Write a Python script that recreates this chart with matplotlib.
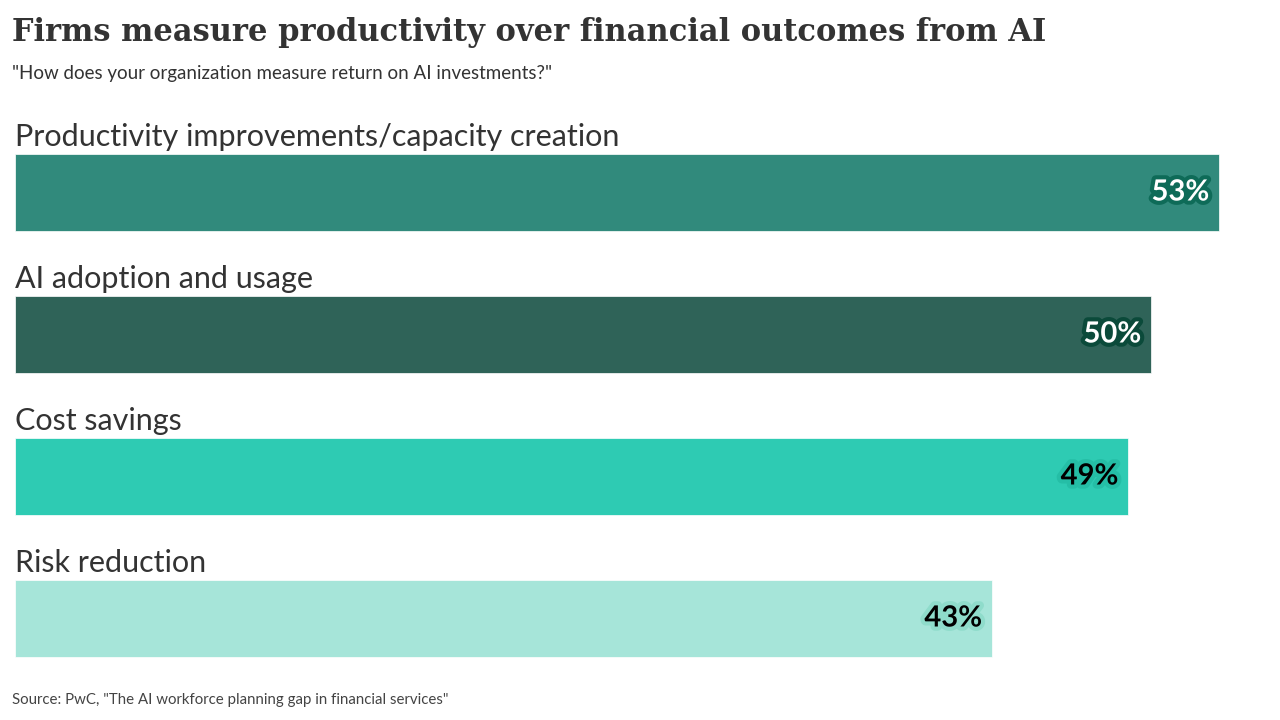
import matplotlib
matplotlib.use("Agg")
import matplotlib.pyplot as plt
import matplotlib.patheffects as pe

categories = ["Productivity improvements/capacity creation", "AI adoption and usage",
              "Cost savings", "Risk reduction"]
values = [53, 50, 49, 43]
bar_colors = ["#318a7c", "#2f6358", "#2ecbb3", "#a6e5d9"]
text_colors = ["white", "white", "black", "black"]
stroke_colors = ["#0e6b58", "#0b4a3a", "#25bea6", "#8fdccb"]

title = "Firms measure productivity over financial outcomes from AI"
subtitle = "\"How does your organization measure return on AI investments?\""
source = "Source: PwC, \"The AI workforce planning gap in financial services\""

W, H = 1280, 720
fig = plt.figure(figsize=(W / 100, H / 100), dpi=100)

# axes spans pixel x 15..1280, y 100..680
ax = fig.add_axes([15 / W, (H - 680) / H, (W - 15) / W, 580 / H])
px_per_pct = 1204 / 53
ax.set_xlim(0, (W - 15) / px_per_pct)
pitch = 142
ax.set_ylim((680 - 192.5) / pitch, -(192.5 - 100) / pitch)
ax.axis("off")

bh = 77 / pitch
ypos = list(range(len(categories)))
ax.barh(ypos, values, height=bh, color=bar_colors, edgecolor="white", linewidth=0.5)

for i, (cat, v) in enumerate(zip(categories, values)):
    ax.text(0.02, i - bh / 2 - 8 / pitch, cat, fontsize=22, family="Lato",
            color="#333333", va="baseline", ha="left")
    ax.annotate(f"{v}%", (v, i), xytext=(-7, 0), textcoords="offset points",
                ha="right", va="center", fontsize=21, fontweight="bold",
                family="Lato", color=text_colors[i],
                path_effects=[pe.withStroke(linewidth=6, foreground=stroke_colors[i])])

fig.text(12 / W, 1 - 33 / H, title, fontsize=22, fontweight="bold",
         family="DejaVu Serif", color="#333333", va="center", ha="left")
fig.text(12 / W, 1 - 74 / H, subtitle, fontsize=13.5, family="Lato",
         color="#333333", va="center", ha="left")
fig.text(12 / W, 1 - 700 / H, source, fontsize=10.8, family="Lato",
         color="#444444", va="center", ha="left")

fig.savefig("out.png", dpi=100, facecolor="white")
